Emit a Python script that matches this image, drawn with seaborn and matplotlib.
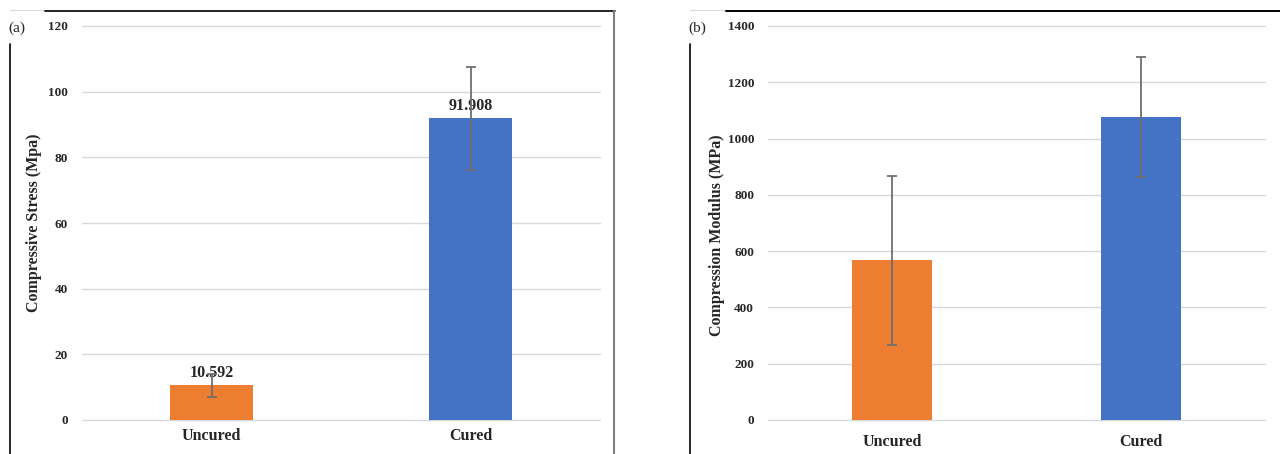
import numpy as np
import pandas as pd
import seaborn as sns
import matplotlib.pyplot as plt
from matplotlib.lines import Line2D

# data
categories = ["Uncured", "Cured"]
stress_mean = [10.592, 91.908]
stress_err = [3.5, 15.7]
modulus_mean = [568.0, 1077.0]
modulus_err = [300.0, 213.0]

colors = ["#ED7D31", "#4472C4"]
W, H = 1280, 454

sns.set_theme(style="white")
plt.rcParams["font.family"] = ["Liberation Serif", "DejaVu Serif"]


def px(x0, y0, x1, y1):
    # pixel box (top-left origin) -> figure fraction rect
    return [x0 / W, 1 - y1 / H, (x1 - x0) / W, (y1 - y0) / H]


def bar_panel(ax, means, errs, ylim, step, ylabel, label_xy, pad_y, pad_x, values=False):
    df = pd.DataFrame({"cond": categories, "val": means})
    sns.barplot(
        data=df, x="cond", y="val", hue="cond", palette=colors,
        order=categories, hue_order=categories, width=0.32,
        errorbar=None, legend=False, saturation=1, linewidth=0, ax=ax,
    )
    ax.errorbar(
        np.arange(len(means)), means, yerr=errs, fmt="none",
        ecolor="#6f6f6f", elinewidth=1.3, capsize=3.5, capthick=1.3, zorder=5,
    )
    if values:
        for c in ax.containers:
            if hasattr(c, "patches"):
                ax.bar_label(c, fmt="%.3f", padding=3, fontsize=11.5, fontweight="bold")
    ax.set_xlim(-0.5, 1.5)
    ax.set_ylim(*ylim)
    ax.set_yticks(np.arange(ylim[0], ylim[1] + 1, step))
    ax.yaxis.grid(True, color="#d9d9d9", linewidth=1)
    for gl in ax.yaxis.get_gridlines():
        gl.set_clip_on(False)
    ax.set_axisbelow(True)
    for s in ax.spines.values():
        s.set_visible(False)
    ax.tick_params(axis="y", length=0, pad=pad_y, labelsize=9.5)
    ax.tick_params(axis="x", length=0, pad=pad_x, labelsize=11.5)
    for t in ax.get_yticklabels() + ax.get_xticklabels():
        t.set_fontweight("bold")
    ax.set_xlabel("")
    ax.set_ylabel(ylabel, fontsize=11.5, fontweight="bold")
    ax.yaxis.set_label_coords(*label_xy)


fig = plt.figure(figsize=(W / 100, H / 100), dpi=100)
fig.patch.set_facecolor("white")

ax1 = fig.add_axes(px(82, 26, 600, 420))
bar_panel(ax1, stress_mean, stress_err, (0, 120), 20,
          "Compressive Stress (Mpa)", (-0.078, 0.5), 10, 6, values=True)

ax2 = fig.add_axes(px(768, 26, 1265, 420))
bar_panel(ax2, modulus_mean, modulus_err, (0, 1400), 200,
          "Compression Modulus (MPa)", (-0.087, 0.47), 10, 10)

# panel letters
fig.text(8 / W, 1 - 28 / H, "(a)", fontsize=11, va="center", ha="left")
fig.text(688 / W, 1 - 28 / H, "(b)", fontsize=11, va="center", ha="left")


def fline(x, y, color, lw):
    fig.add_artist(Line2D([v / W for v in x], [1 - v / H for v in y],
                          color=color, linewidth=lw, transform=fig.transFigure))


# frame pieces around the two pasted panels
fline([10, 45], [10, 10], "#d9d9d9", 0.8)
fline([45, 615], [11, 11], "black", 1.2)
fline([10, 10], [44, 454], "black", 1.2)
fline([614, 614], [11, 454], "#7f7f7f", 1.5)
fline([690, 726], [10, 10], "#d9d9d9", 0.8)
fline([726, 1280], [11, 11], "black", 1.4)
fline([690, 690], [44, 454], "black", 1.2)

fig.savefig("out.png", dpi=100)
